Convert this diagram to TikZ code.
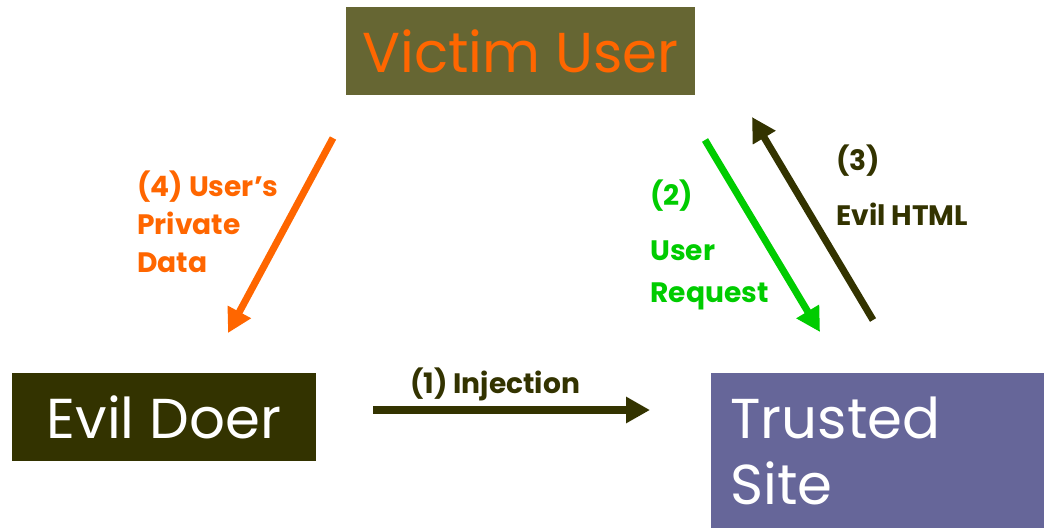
\documentclass[tikz,border=0pt]{standalone}
\usepackage{fontspec}
\setmainfont{Poppins}
\usetikzlibrary{arrows.meta, positioning}
\definecolor{corange}{RGB}{255,102,0}
\definecolor{cgreen}{RGB}{0,204,0}
\definecolor{cdark}{RGB}{51,51,0}
\definecolor{colive}{RGB}{102,102,51}
\definecolor{cpurple}{RGB}{102,102,153}

\begin{document}
\begin{tikzpicture}[
    x=0.02cm, y=-0.02cm,
    >={Triangle[length=4.8mm, width=5mm]},
    party/.style={inner sep=0pt, minimum height=1.76cm, font=\fontsize{32}{38}\selectfont},
    flow/.style={->, line width=4pt},
    steplabel/.style={font=\fontsize{16}{21.6}\bfseries\selectfont, align=left, anchor=base west, inner sep=0pt},
]
    \useasboundingbox (0,0) rectangle (1044,528);

    % Parties
    \node[party, fill=colive, text=corange, minimum width=6.98cm] (victim) at (520.5,51) {Victim User};
    \node[party, fill=cdark, text=white, minimum width=6.08cm] (doer) at (164,417) {Evil Doer};
    \node[party, fill=cpurple, text=white, minimum width=6.66cm, minimum height=3.1cm,
        anchor=north west, inner xsep=0.38cm, text width=5.9cm, align=left] (site) at (711,373) {Trusted\\Site};

    % Arrow ends
    \coordinate (injA) at (373,410);
    \coordinate (injB) at (650,410);
    \coordinate (reqA) at (705,140);
    \coordinate (reqB) at (820,332);
    \coordinate (htmlA) at (873,320);
    \coordinate (htmlB) at (752,117);
    \coordinate (dataA) at (333,138);
    \coordinate (dataB) at (228,333);

    \draw[flow, cdark] (injA) -- (injB);
    \draw[flow, cgreen] (reqA) -- (reqB);
    \draw[flow, cdark] (htmlA) -- (htmlB);
    \draw[flow, corange] (dataA) -- (dataB);

    % Step labels (base = last line)
    \node[steplabel, text=cdark] (inj) at (410,393) {(1) Injection};
    \node[steplabel, text=cgreen] (req) at (650,302) {(2)\\[9.7pt]User\\[2.3pt]Request};
    \node[steplabel, text=cdark] (html) at (836,225) {(3)\\[9.7pt]Evil HTML};
    \node[steplabel, text=corange] (data) at (137,272) {(4) User’s\\Private\\Data};
\end{tikzpicture}
\end{document}
